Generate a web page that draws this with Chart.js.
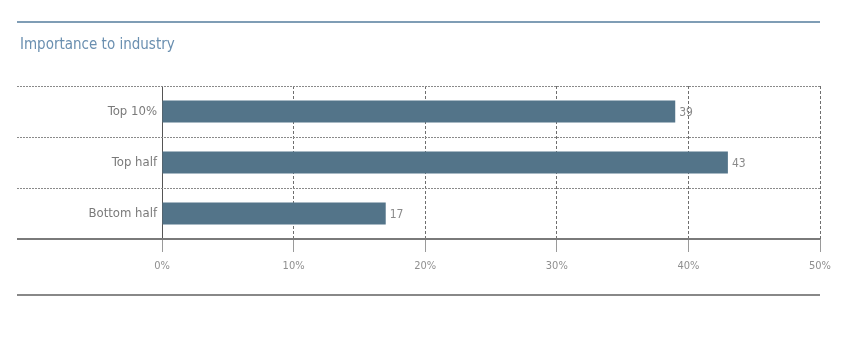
<!DOCTYPE html>
<html>
<head>
<meta charset="utf-8">
<script src="https://cdn.jsdelivr.net/npm/chart.js@4.4.1/dist/chart.umd.min.js"></script>
<style>
  html, body { margin: 0; padding: 0; background: #ffffff; }
  #wrap { width: 865px; height: 356px; position: relative; }
</style>
</head>
<body>
<div id="wrap"><canvas id="c" width="865" height="356"></canvas></div>
<script>
const titleText = "Importance to industry";
const categories = ["Top 10%", "Top half", "Bottom half"];
const values = [39, 43, 17];
const xTicks = [0, 10, 20, 30, 40, 50];

const FONT = "'DejaVu Sans Condensed', 'Liberation Sans Narrow', sans-serif";
const LEFT_EDGE = 17;

const decor = {
  id: 'decor',
  beforeDatasetsDraw(chart) {
    const ctx = chart.ctx;
    const ca = chart.chartArea;
    const y = chart.scales.y;
    ctx.save();
    ctx.strokeStyle = '#8a8a8a';
    ctx.lineWidth = 1;
    ctx.setLineDash([2, 1]);
    const n = categories.length;
    for (let i = 0; i < n; i++) {
      const p0 = y.getPixelForValue(i);
      const yy = i === 0 ? ca.top : (p0 + y.getPixelForValue(i - 1)) / 2;
      ctx.beginPath();
      ctx.moveTo(LEFT_EDGE, Math.round(yy) + 0.5);
      ctx.lineTo(ca.right, Math.round(yy) + 0.5);
      ctx.stroke();
    }
    ctx.restore();
  },
  afterDatasetsDraw(chart) {
    const ctx = chart.ctx;
    const ca = chart.chartArea;
    ctx.save();
    ctx.strokeStyle = '#7f9db5';
    ctx.lineWidth = 2;
    ctx.beginPath();
    ctx.moveTo(LEFT_EDGE, 22); ctx.lineTo(ca.right, 22); ctx.stroke();
    ctx.fillStyle = '#6a8fb0';
    ctx.font = "15px " + FONT;
    ctx.textBaseline = 'alphabetic';
    ctx.textAlign = 'left';
    ctx.fillText(titleText, 20, 49);
    ctx.strokeStyle = '#7a7a7a';
    ctx.lineWidth = 2;
    ctx.beginPath();
    ctx.moveTo(LEFT_EDGE, ca.bottom); ctx.lineTo(ca.right, ca.bottom); ctx.stroke();
    ctx.strokeStyle = '#888888';
    ctx.lineWidth = 2;
    ctx.beginPath();
    ctx.moveTo(LEFT_EDGE, 295); ctx.lineTo(ca.right, 295); ctx.stroke();
    const meta = chart.getDatasetMeta(0);
    ctx.fillStyle = '#8a8a8a';
    ctx.font = "12px " + FONT;
    ctx.textBaseline = 'middle';
    ctx.textAlign = 'left';
    meta.data.forEach((bar, i) => {
      ctx.fillText(String(values[i]), bar.x + 4, bar.y + 1);
    });
    ctx.restore();
  }
};

new Chart(document.getElementById('c'), {
  type: 'bar',
  data: {
    labels: categories,
    datasets: [{
      data: values,
      backgroundColor: '#537489',
      borderWidth: 0,
      categoryPercentage: 1,
      barPercentage: 0.43
    }]
  },
  options: {
    indexAxis: 'y',
    responsive: false,
    animation: false,
    devicePixelRatio: 1,
    layout: { padding: { top: 86, right: 45, left: 0, bottom: 0 } },
    plugins: { legend: { display: false }, tooltip: { enabled: false }, title: { display: false } },
    scales: {
      x: {
        min: 0, max: 50,
        afterFit(s) { s.height = 117; },
        afterBuildTicks(s) { s.ticks = xTicks.map(v => ({ value: v })); },
        border: {
          display: false,
          dash: (c) => (c.tick && c.tick.value === 0) ? [] : [3, 2]
        },
        grid: {
          color: (c) => c.tick && c.tick.value === 0 ? '#555555' : '#6e6e6e',
          lineWidth: 1,
          tickLength: 13,
          tickColor: '#9a9a9a'
        },
        ticks: {
          color: '#8f8f8f',
          font: { family: FONT, size: 11 },
          padding: 8,
          callback: (v) => v + '%'
        }
      },
      y: {
        afterFit(s) { s.width = 162; },
        border: { display: false },
        grid: { display: false, drawTicks: false, tickLength: 0 },
        ticks: {
          color: '#7a7a7a',
          font: { family: FONT, size: 13 },
          padding: 5
        }
      }
    }
  },
  plugins: [decor]
});
</script>
</body>
</html>
